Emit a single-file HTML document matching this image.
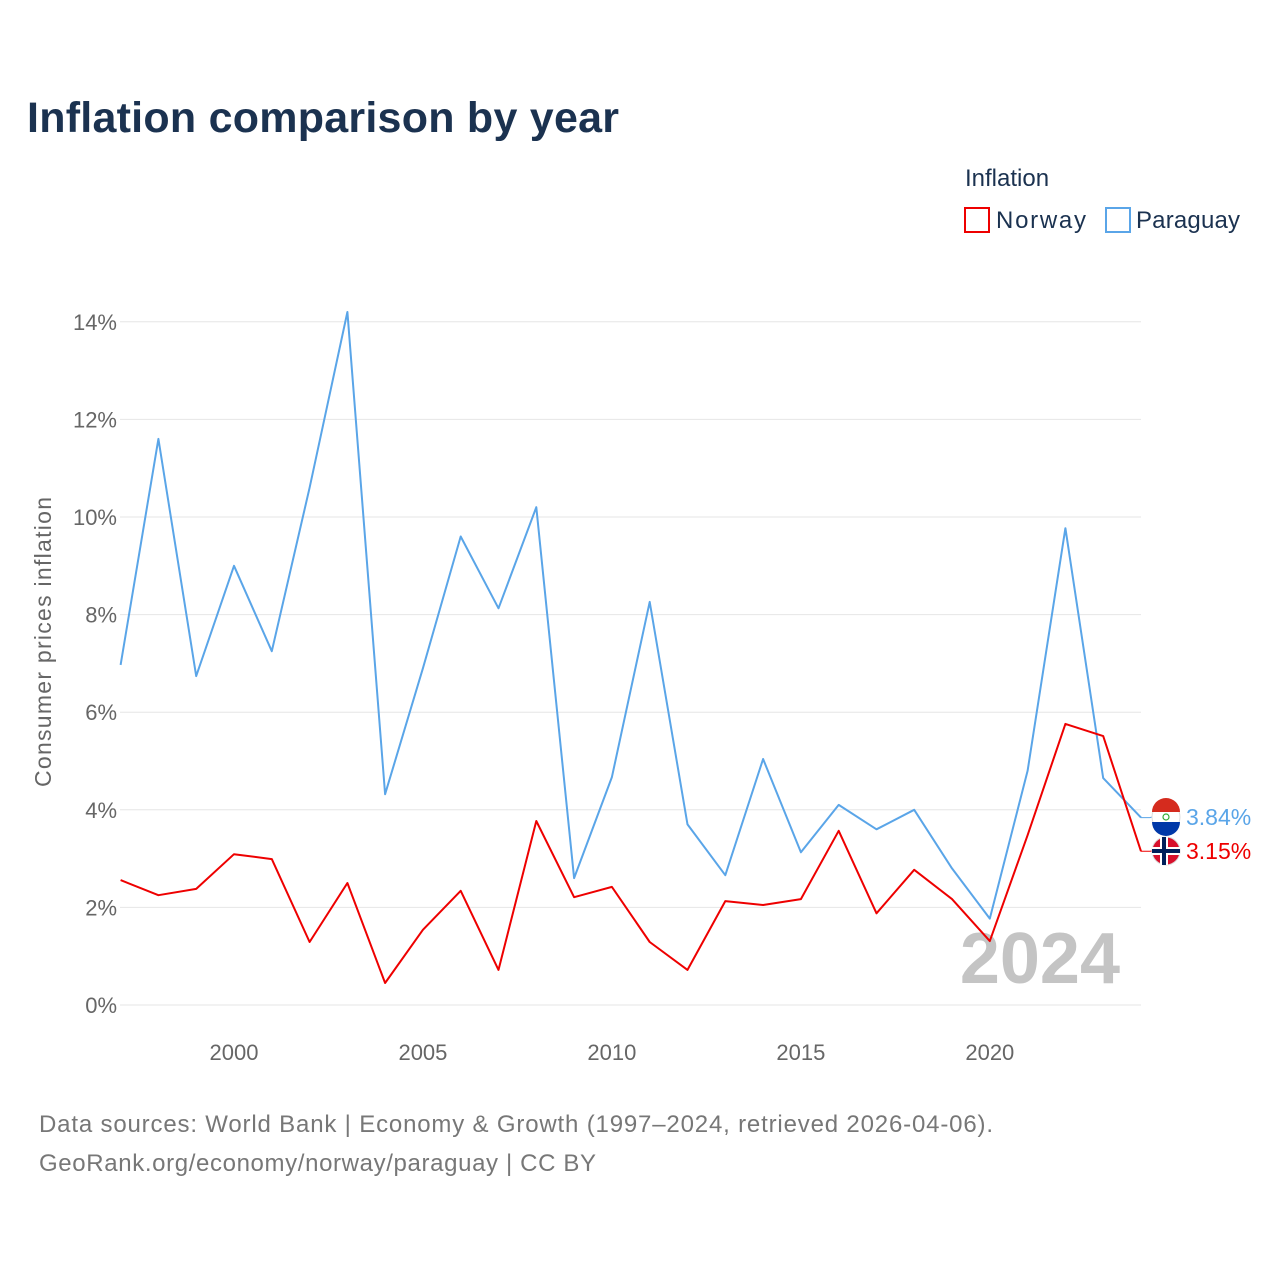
<!DOCTYPE html>
<html><head><meta charset="utf-8">
<style>
body{margin:0;background:#fff;font-family:"Liberation Sans",sans-serif;}
svg text{font-family:"Liberation Sans",sans-serif;}
</style></head>
<body>
<svg id="chart" width="1280" height="1280" viewBox="0 0 1280 1280" xmlns="http://www.w3.org/2000/svg">
<rect width="1280" height="1280" fill="#fff"/>
<text x="27" y="132" font-size="43" font-weight="bold" fill="#1b3250" textLength="592">Inflation comparison by year</text>
<text x="965" y="186" font-size="24" fill="#1b3250">Inflation</text>
<g>
<rect x="965" y="208" width="24" height="24" fill="none" stroke="#ee0000" stroke-width="2"/>
<text x="996" y="228" font-size="24" fill="#1b3250" textLength="90">Norway</text></g>
<g>
<rect x="1106" y="208" width="24" height="24" fill="none" stroke="#5aa5e8" stroke-width="2"/>
<text x="1136" y="228" font-size="24" fill="#1b3250" textLength="104">Paraguay</text></g>
<g id="grid"></g>
<g id="yticks"></g>
<g id="xticks"></g>
<text transform="translate(51,642) rotate(-90)" text-anchor="middle" font-size="23" fill="#666" textLength="290">Consumer prices inflation</text>
<text x="1120" y="983" text-anchor="end" font-size="72" font-weight="bold" fill="#c4c4c4">2024</text>
<g id="series"></g>
<text x="39" y="1132" font-size="24" fill="#777" textLength="954">Data sources: World Bank | Economy &amp; Growth (1997–2024, retrieved 2026-04-06).</text>
<text x="39" y="1171" font-size="24" fill="#777" textLength="557">GeoRank.org/economy/norway/paraguay | CC BY</text>
</svg>
<script>
const years=[1997,1998,1999,2000,2001,2002,2003,2004,2005,2006,2007,2008,2009,2010,2011,2012,2013,2014,2015,2016,2017,2018,2019,2020,2021,2022,2023,2024];
const paraguay=[6.97,11.6,6.74,9.0,7.25,10.6,14.2,4.32,6.9,9.6,8.13,10.2,2.6,4.67,8.26,3.7,2.66,5.04,3.13,4.1,3.6,4.0,2.8,1.77,4.8,9.77,4.65,3.84];
const norway=[2.56,2.25,2.38,3.09,2.99,1.29,2.5,0.45,1.54,2.34,0.72,3.77,2.21,2.42,1.29,0.72,2.13,2.05,2.17,3.57,1.88,2.77,2.17,1.31,3.48,5.76,5.51,3.15];
const yTicks=[0,2,4,6,8,10,12,14];
const xTicks=[2000,2005,2010,2015,2020];
const NS="http://www.w3.org/2000/svg";
const x=v=>120.6+(v-1997)*(1141-120.6)/27;
const y=v=>1005-v*48.8;
function mk(t,a,p){const e=document.createElementNS(NS,t);for(const k in a)e.setAttribute(k,a[k]);p.appendChild(e);return e;}
const grid=document.getElementById('grid'),yt=document.getElementById('yticks'),xt=document.getElementById('xticks'),se=document.getElementById('series');
yTicks.forEach(t=>{
 const l=mk('line',{x1:120,x2:1141,y1:y(t),y2:y(t),stroke:'#e6e6e6','stroke-width':1},grid);
 
 
 const tx=mk('text',{x:117,y:y(t)+8,'text-anchor':'end','font-size':22,fill:'#666'},yt);
 tx.textContent=t+'%';
 
 
});
xTicks.forEach(t=>{
 const tx=mk('text',{x:x(t),y:1060,'text-anchor':'middle','font-size':22,fill:'#666'},xt);
 tx.textContent=t;
 
 
});
function line(vals,color,name,ly){
 const d=vals.map((v,i)=>(i?'L':'M')+x(years[i]).toFixed(1)+','+y(v).toFixed(1)).join(' ');
 const p=mk('path',{d:d,fill:'none',stroke:color,'stroke-width':2,'stroke-linejoin':'round'},se);
 
 
 const last=vals[vals.length-1];
 const c=mk('path',{d:`M${x(2024)},${y(last)} L1150,${y(last)} L1152,${ly}`,fill:'none',stroke:color,'stroke-width':1},se);
 
 
 const f=mk('circle',{cx:1166,cy:ly,r:14,fill:name==='norway'?'#d8102c':'#fff',stroke:'#ddd','stroke-width':1},se);
 
 
 if(name==='norway'){
  mk('rect',{x:1152,y:ly-4,width:28,height:8,fill:'#fff'},se);
  mk('rect',{x:1160,y:ly-14,width:8,height:28,fill:'#fff'},se);
  mk('rect',{x:1152,y:ly-2,width:28,height:4,fill:'#00205b'},se);
  mk('rect',{x:1162,y:ly-14,width:4,height:28,fill:'#00205b'},se);
 }else{
  mk('path',{d:`M1152,${ly-5} A14,14 0 0 1 1180,${ly-5} Z`,fill:'#d52b1e'},se);
  mk('path',{d:`M1152,${ly+5} A14,14 0 0 0 1180,${ly+5} Z`,fill:'#0038a8'},se);
  mk('circle',{cx:1166,cy:ly,r:3,fill:'none',stroke:'#3a3','stroke-width':1.2},se);
 }
 const t=mk('text',{x:1186,y:ly+8,'font-size':23,fill:color},se);
 t.textContent=last.toFixed(2)+'%';
 
 
}
line(paraguay,'#5aa5e8','paraguay',817);
line(norway,'#ee0000','norway',851);
</script>
</body></html>
